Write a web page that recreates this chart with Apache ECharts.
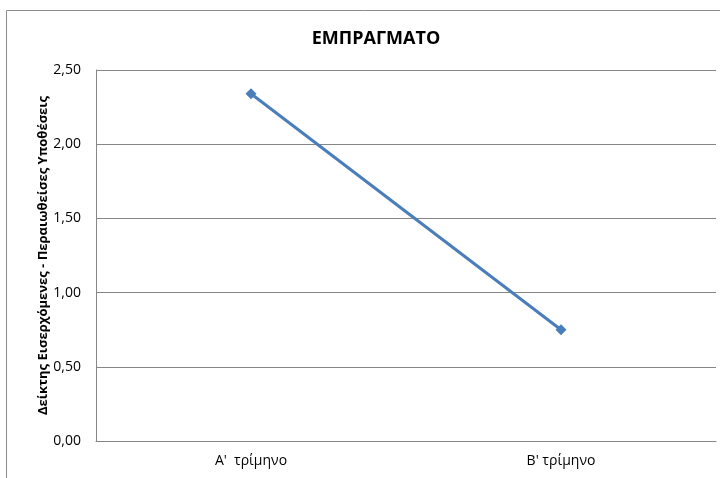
<!DOCTYPE html>
<html><head><meta charset="utf-8">
<script src="https://cdn.jsdelivr.net/npm/echarts@6/dist/echarts.min.js"></script>
<style>html,body{margin:0;padding:0;background:#fff}#c{width:720px;height:478px}</style>
</head><body><div id="c"></div>
<script>
const title = 'ΕΜΠΡΑΓΜΑΤΟ';
const yAxisName = 'Δείκτης Εισερχόμενες - Περαιωθείσες Υποθέσεις';
const categories = ["Α'  τρίμηνο", "Β' τρίμηνο"];
const values = [2.34, 0.75];
const yMin = 0, yMax = 2.5, yStep = 0.5;

const chart = echarts.init(document.getElementById('c'));
chart.setOption({
  animation: false,
  backgroundColor: '#fff',
  title: {
    text: title, left: 371, top: 25, textAlign: 'center',
    textStyle: {fontFamily: 'Open Sans', fontWeight: 'bold', fontSize: 18, color: '#000'}
  },
  graphic: [{
    type: 'rect', shape: {x: 6.5, y: 10.5, width: 800, height: 600},
    style: {fill: 'none', stroke: '#8c8c8c', lineWidth: 1}, silent: true
  }],
  grid: {left: 96, right: 4, top: 70, bottom: 37},
  xAxis: {
    type: 'category', data: categories, boundaryGap: true,
    axisLine: {lineStyle: {color: '#868686'}},
    axisTick: {show: false},
    axisLabel: {fontFamily: 'Open Sans', fontSize: 14, color: '#000', margin: 13}
  },
  yAxis: {
    type: 'value', min: yMin, max: yMax, interval: yStep,
    name: yAxisName, nameLocation: 'middle', nameGap: 46, nameRotate: 90,
    nameMoveOverlap: false,
    nameTextStyle: {fontFamily: 'Open Sans', fontWeight: 'bold', fontSize: 13, color: '#000'},
    axisLine: {show: true, lineStyle: {color: '#868686'}},
    axisTick: {show: false},
    splitLine: {lineStyle: {color: '#868686', width: 1}},
    axisLabel: {fontFamily: 'Open Sans', fontSize: 14, color: '#000', margin: 15,
      formatter: v => v.toFixed(2).replace('.', ',')}
  },
  series: [{
    type: 'line', data: values,
    lineStyle: {color: '#4a7ebb', width: 3},
    itemStyle: {color: '#4a7ebb'},
    symbol: 'diamond', symbolSize: 11
  }]
});
</script></body></html>
